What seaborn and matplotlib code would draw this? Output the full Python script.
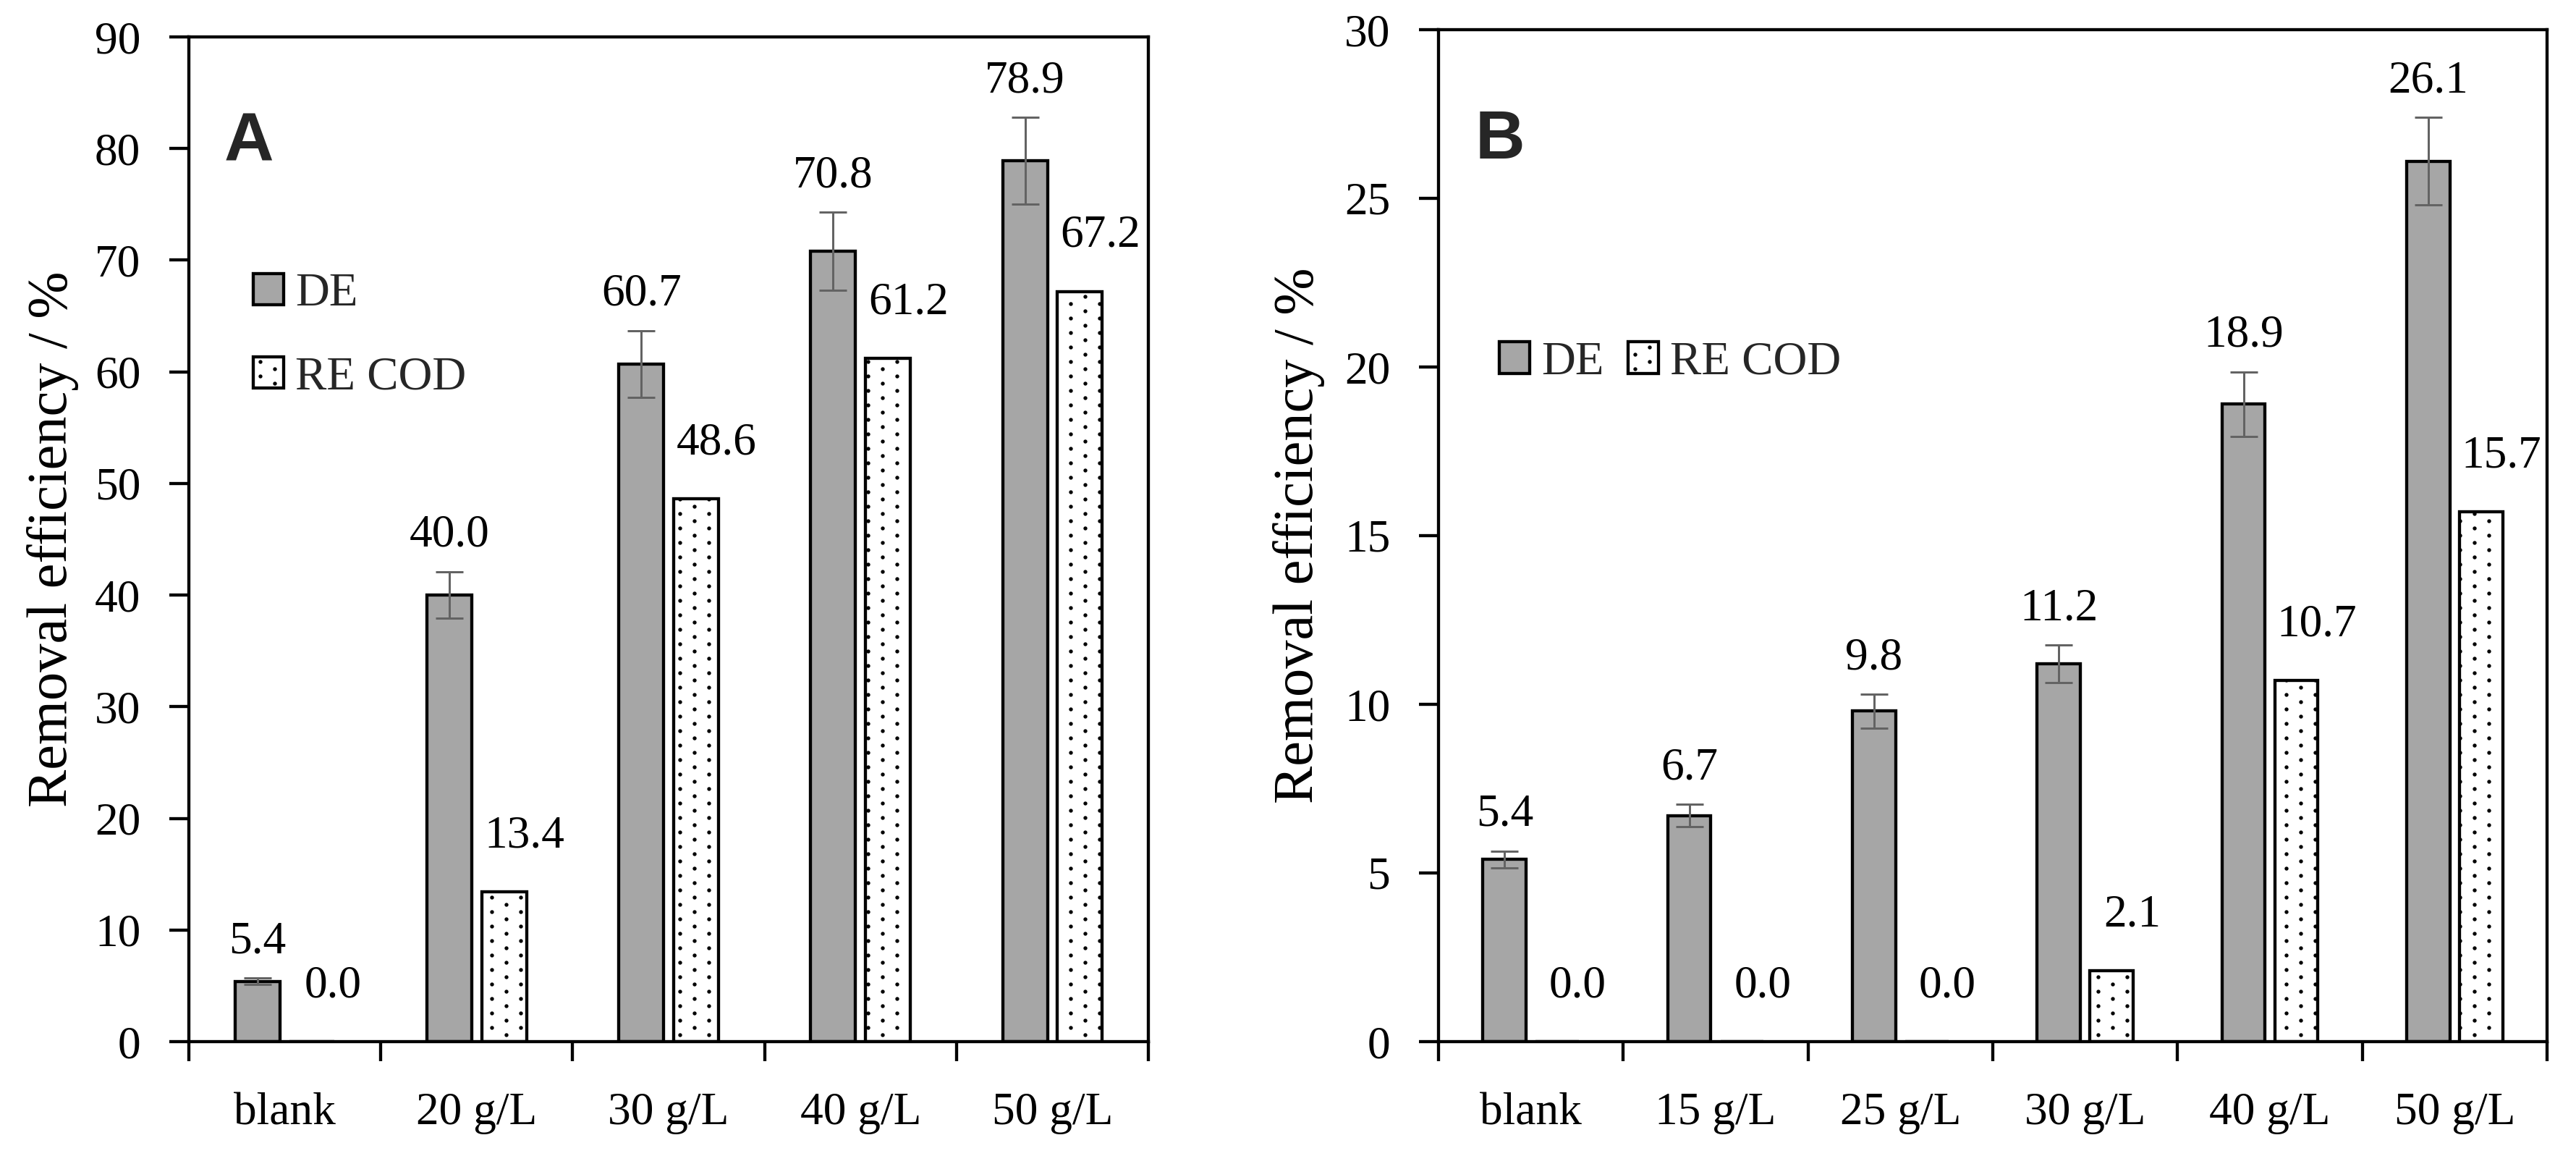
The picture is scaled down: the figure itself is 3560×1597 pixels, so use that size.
import numpy as np
import pandas as pd
import matplotlib
matplotlib.use("Agg")
import matplotlib.pyplot as plt
import matplotlib.hatch as mhatch
import seaborn as sns

# ---------------- data ----------------
A_categories = ["blank", "20 g/L", "30 g/L", "40 g/L", "50 g/L"]
A_de = [5.4, 40.0, 60.7, 70.8, 78.9]
A_de_err = [0.3, 2.1, 3.0, 3.5, 3.9]
A_re = [0.0, 13.4, 48.6, 61.2, 67.2]

B_categories = ["blank", "15 g/L", "25 g/L", "30 g/L", "40 g/L", "50 g/L"]
B_de = [5.4, 6.7, 9.8, 11.2, 18.9, 26.1]
B_de_err = [0.25, 0.33, 0.5, 0.55, 0.95, 1.3]
B_re = [0.0, 0.0, 0.0, 2.1, 10.7, 15.7]

series_names = ["DE", "RE COD"]
y_label = "Removal efficiency / %"

# ---------------- style ----------------
sns.set_theme(style="white")
plt.rcParams["font.family"] = ["Liberation Serif", "DejaVu Serif"]
plt.rcParams["hatch.linewidth"] = 0.8
plt.rcParams["hatch.color"] = "black"

# dotted hatch arranged in staggered columns (transpose the default '.' lattice)
_meth_name = None
for _nm in ("set_vertices_and_codes", "get_vertices_and_codes"):
    if hasattr(mhatch.SmallFilledCircles, _nm):
        _meth_name = _nm
        break
if _meth_name is not None:
    _orig_dots = getattr(mhatch.SmallFilledCircles, _meth_name)

    def _column_dots(self, vertices, codes):
        _orig_dots(self, vertices, codes)
        vertices[:] = vertices[:, ::-1].copy()

    setattr(mhatch.SmallFilledCircles, _meth_name, _column_dots)

DPI = 120
W, H = 3560, 1597
fig = plt.figure(figsize=(W / DPI, H / DPI), dpi=DPI)

GRAY = "#A6A6A6"
ERR = "#636363"
LW = 2.6
FS_TICK = 38
FS_VAL = 38
FS_LEG = 39
FS_YLAB = 47


def px_rect(left, right, top, bottom):
    return [left / W, 1 - bottom / H, (right - left) / W, (bottom - top) / H]


def draw_panel(ax, cats, de, de_err, re, ymax, ystep, ylabelpad):
    df = pd.DataFrame({
        "cat": cats * 2,
        "val": list(de) + list(re),
        "series": [series_names[0]] * len(cats) + [series_names[1]] * len(cats),
    })
    sns.barplot(data=df, x="cat", y="val", hue="series", order=cats,
                hue_order=series_names, palette=[GRAY, "white"], saturation=1,
                width=0.57, gap=0.18, errorbar=None, legend=False,
                edgecolor="black", linewidth=LW, ax=ax, zorder=2)
    de_bars = list(ax.containers[0])
    re_bars = list(ax.containers[1])
    for b in re_bars:
        b.set_hatch(".")
        b.set_edgecolor("black")
    # error bars on DE
    xs = [b.get_x() + b.get_width() / 2 for b in de_bars]
    ax.errorbar(xs, de, yerr=de_err, fmt="none", ecolor=ERR, elinewidth=1.8,
                capsize=11.5, capthick=1.8, zorder=3)
    # value labels
    for x, v, e in zip(xs, de, de_err):
        ax.annotate(f"{v:.1f}", xy=(x, v + e), xytext=(0, 30),
                    textcoords="offset points", ha="center", va="center",
                    fontsize=FS_VAL, color="black")
    xr = [b.get_x() + b.get_width() / 2 for b in re_bars]
    for x, v in zip(xr, re):
        ax.annotate(f"{v:.1f}", xy=(x, v), xytext=(17, 46),
                    textcoords="offset points", ha="center", va="center",
                    fontsize=FS_VAL, color="black")

    n = len(cats)
    ax.set_xlim(-0.5, n - 0.5)
    ax.set_ylim(0, ymax)
    ticks = np.arange(0, ymax + 0.001, ystep)
    ax.set_yticks(ticks)
    ax.set_yticklabels([f"{t:g}" for t in ticks])
    ax.set_xticks(np.arange(-0.5, n, 1.0))
    ax.set_xticklabels([""] * (n + 1))
    ax.set_xticks(np.arange(n), labels=cats, minor=True)
    ax.tick_params(axis="x", which="major", direction="out", length=16,
                   width=LW, color="black", bottom=True)
    ax.tick_params(axis="x", which="minor", length=0, pad=42,
                   labelsize=FS_TICK, labelcolor="black", bottom=True)
    ax.tick_params(axis="y", direction="out", length=16, width=LW,
                   color="black", left=True, pad=24, labelsize=FS_TICK,
                   labelcolor="black")
    for s in ax.spines.values():
        s.set_visible(True)
        s.set_color("black")
        s.set_linewidth(LW)
    ax.set_xlabel("")
    ax.set_ylabel(y_label, fontsize=FS_YLAB, color="black", labelpad=ylabelpad)
    ax.grid(False)
    return de_bars[0], re_bars[0]


axA = fig.add_axes(px_rect(261, 1587, 51, 1439))
hA = draw_panel(axA, A_categories, A_de, A_de_err, A_re, 90, 10, 13)
axB = fig.add_axes(px_rect(1988, 3520, 41, 1439))
hB = draw_panel(axB, B_categories, B_de, B_de_err, B_re, 30, 5, 16)

leg_kw = dict(frameon=False, borderpad=0, borderaxespad=0, handlelength=0.65,
              handleheight=0.65, handletextpad=0.25, fontsize=FS_LEG,
              bbox_transform=fig.transFigure, loc="center left")
axA.legend(list(hA), series_names, bbox_to_anchor=(350 / W, 1 - 464 / H),
           labelspacing=0.85, **leg_kw)
axB.legend(list(hB), series_names, bbox_to_anchor=(2072 / W, 1 - 501 / H),
           ncol=2, columnspacing=0.5, **leg_kw)

fig.text(310 / W, 1 - 223 / H, "A", fontsize=57, fontweight="bold",
         family=["Liberation Sans", "DejaVu Sans"], ha="left", va="baseline")
fig.text(2039 / W, 1 - 219 / H, "B", fontsize=57, fontweight="bold",
         family=["Liberation Sans", "DejaVu Sans"], ha="left", va="baseline")

fig.savefig("out.png", dpi=DPI, facecolor="white")
